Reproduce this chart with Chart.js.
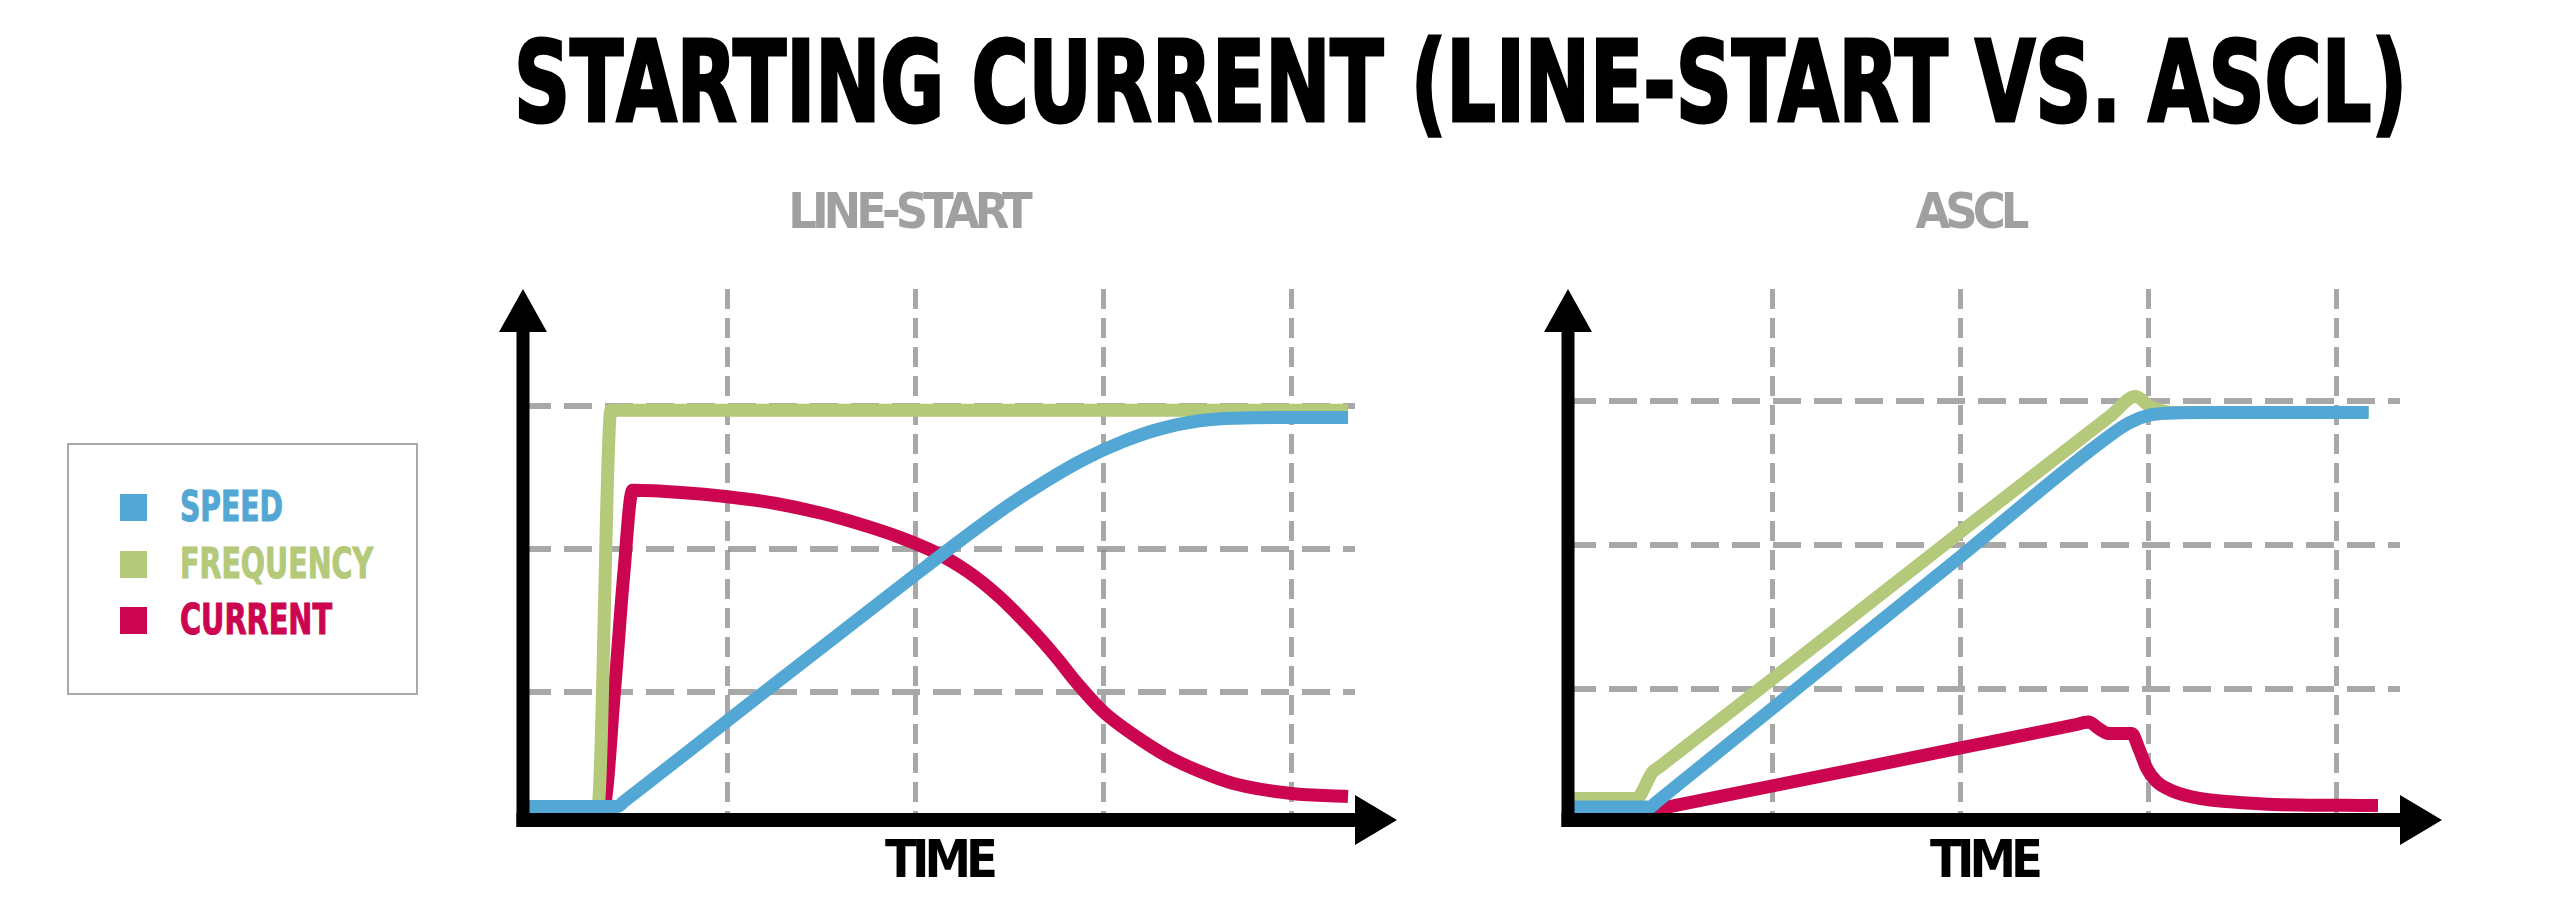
<!DOCTYPE html>
<html>
<head>
<meta charset="utf-8">
<title>Starting current (line-start vs. ASCL)</title>
<script src="https://cdn.jsdelivr.net/npm/chart.js@4.4.1/dist/chart.umd.min.js"></script>
<style>
  html, body { margin: 0; padding: 0; background: #fff; }
  body { width: 2560px; height: 916px; position: relative; overflow: hidden;
         font-family: "Liberation Sans Narrow", "DejaVu Sans Condensed", sans-serif; }
  #title { position: absolute; left: 514px; top: 26px; font-size: 112px; line-height: 1;
           font-weight: bold; white-space: nowrap; color: #000; transform-origin: 0 0;
           -webkit-text-stroke: 3px #000; }
  #legend { position: absolute; left: 67px; top: 443px; width: 351px; height: 252px;
            box-sizing: border-box; border: 2px solid #a9a9a9; background: #fff; }
  .swatch { position: absolute; left: 51px; width: 27px; height: 27px; }
  .label { position: absolute; left: 111px; font-size: 42px; line-height: 1; font-weight: bold;
           white-space: nowrap; transform-origin: 0 0; -webkit-text-stroke: 1px currentColor; }
  canvas { position: absolute; top: 180px; }
  #lineStart { left: 418px; }
  #ascl { left: 1492px; }
</style>
</head>
<body>
<div id="title">STARTING CURRENT (LINE-START VS. ASCL)</div>
<div id="legend"></div>
<canvas id="lineStart" width="982" height="736"></canvas>
<canvas id="ascl" width="956" height="736"></canvas>

<script>
// series names and colours, shared by both panels and the legend
const seriesNames = ['SPEED', 'FREQUENCY', 'CURRENT'];
const seriesColors = ['#52a7d4', '#b4c97a', '#cc0550'];

// dashed grid positions (time units / level units)
const timeGridLines = [1, 2, 3, 4];
const levelGridLines = [1, 2, 3];

// LINE-START panel
const lsSpeedT = [-0.088, 0.415, 0.45, 1.0, 2.0, 2.30, 2.50, 2.70, 2.90, 3.10, 3.30, 3.50, 3.70, 3.90, 4.30];
const lsSpeedV = [0.20, 0.20, 0.235, 0.80, 1.82, 2.12, 2.31, 2.48, 2.63, 2.75, 2.84, 2.895, 2.915, 2.92, 2.92];
const lsFreqT = [-0.088, 0.31, 0.38, 4.30];
const lsFreqV = [0.20, 0.20, 2.97, 2.97];
const lsCurrT = [-0.088, 0.34, 0.40, 0.447, 0.495, 0.75, 1.0, 1.25, 1.5, 1.74, 1.92, 2.10, 2.28, 2.45, 2.63, 2.75, 2.86, 3.0, 3.16, 3.34, 3.52, 3.69, 4.0, 4.30];
const lsCurrV = [0.20, 0.20, 1.03, 1.81, 2.41, 2.395, 2.365, 2.32, 2.25, 2.16, 2.08, 1.98, 1.84, 1.66, 1.42, 1.24, 1.06, 0.86, 0.70, 0.55, 0.44, 0.36, 0.29, 0.27];

// ASCL panel
const asSpeedT = [-0.088, 0.35, 0.38, 1.0, 2.0, 2.80, 2.90, 3.0, 3.1, 3.3, 4.17];
const asSpeedV = [0.18, 0.18, 0.212, 0.866, 1.92, 2.765, 2.85, 2.90, 2.915, 2.92, 2.92];
const asFreqT = [-0.088, 0.28, 0.30, 0.36, 0.40, 1.0, 2.0, 2.80, 2.93, 3.01, 3.13, 4.17];
const asFreqV = [0.24, 0.24, 0.27, 0.42, 0.46, 1.07, 2.09, 2.90, 3.03, 2.96, 2.92, 2.92];
const asCurrT = [-0.088, 0.33, 0.36, 1.0, 2.0, 2.60, 2.68, 2.74, 2.79, 2.91, 2.95, 2.99, 3.04, 3.13, 3.27, 3.45, 3.63, 4.22];
const asCurrV = [0.15, 0.15, 0.158, 0.327, 0.59, 0.748, 0.77, 0.72, 0.69, 0.69, 0.58, 0.45, 0.36, 0.29, 0.24, 0.215, 0.20, 0.19];

const fontFamily = '"Liberation Sans Narrow", "DejaVu Sans Condensed", sans-serif';
const gridColor = 'rgba(135, 135, 135, 0.72)';


/**
 * Title: squeeze it to the width it has in the picture.
 */
const titleEl = document.getElementById('title');
titleEl.style.transform = 'scaleX(' + (1893 / titleEl.getBoundingClientRect().width) + ')';


/**
 * Legend box on the left, built from the series names and colours.
 */
const legendEl = document.getElementById('legend');
const labelWidths = [103, 193, 152];
seriesNames.forEach(function(name, i) {
    const top = 49 + i * 56.5;
    const sw = document.createElement('div');
    sw.className = 'swatch';
    sw.style.top = top + 'px';
    sw.style.background = seriesColors[i];
    legendEl.appendChild(sw);

    const lb = document.createElement('div');
    lb.className = 'label';
    lb.textContent = name;
    lb.style.top = (top - 8) + 'px';
    lb.style.color = seriesColors[i];
    legendEl.appendChild(lb);
    lb.style.transform = 'scaleX(' + (labelWidths[i] / lb.getBoundingClientRect().width) + ')';
});


/**
 * Black axes with arrow heads, drawn on top of the lines.
 */
const axisArrows = {
    id: 'axisArrows',
    afterDatasetsDraw(chart) {
        const ctx = chart.ctx;
        const a = chart.chartArea;
        ctx.save();
        ctx.fillStyle = '#000';
        // vertical axis
        ctx.fillRect(a.left - 6.5, a.top + 43, 13, a.bottom - a.top - 43 + 7);
        ctx.beginPath();
        ctx.moveTo(a.left, a.top);
        ctx.lineTo(a.left + 24, a.top + 43);
        ctx.lineTo(a.left - 24, a.top + 43);
        ctx.closePath();
        ctx.fill();
        // time axis
        ctx.fillRect(a.left - 6.5, a.bottom - 7, a.right - a.left + 6.5, 14);
        ctx.beginPath();
        ctx.moveTo(a.right + 42, a.bottom);
        ctx.lineTo(a.right, a.bottom - 25);
        ctx.lineTo(a.right, a.bottom + 25);
        ctx.closePath();
        ctx.fill();
        ctx.restore();
    }
};

/**
 * Tighter letter spacing for the panel titles (the original font is very narrow).
 */
const tightText = {
    id: 'tightText',
    beforeDraw(chart) { chart.ctx.letterSpacing = '-5px'; },
    afterDraw(chart) { chart.ctx.letterSpacing = '0px'; }
};


function points(ts, vs) {
    return ts.map(function(t, i) { return {x: t, y: vs[i]}; });
}

/**
 * Builds one panel. Series order puts speed on top and current underneath.
 * yRoom is the empty strip left of the plot, so the panel title sits where it does in the picture.
 */
function makePanel(canvasId, subtitle, series, yMin, yMax, padLeft, padRight, yRoom) {
    return new Chart(document.getElementById(canvasId).getContext('2d'), {
        type: 'line',
        data: {
            datasets: series.map(function(s, i) {
                return {
                    label: seriesNames[i],
                    data: points(s[0], s[1]),
                    borderColor: seriesColors[i],
                    backgroundColor: seriesColors[i],
                    borderWidth: 13,
                    pointRadius: 0,
                    cubicInterpolationMode: 'monotone',
                    borderJoinStyle: 'round',
                    fill: false
                };
            })
        },
        options: {
            responsive: false,
            animation: false,
            layout: { padding: { left: padLeft, right: padRight, top: 0, bottom: 0 } },
            plugins: {
                legend: { display: false },
                tooltip: { enabled: false },
                title: {
                    display: true,
                    text: subtitle,
                    color: '#a0a0a0',
                    font: { family: fontFamily, size: 50, weight: 'bold', lineHeight: 1.2 },
                    padding: { top: 5.5, bottom: 43.5 }
                }
            },
            scales: {
                x: {
                    type: 'linear',
                    min: -0.088,
                    max: 4.337,
                    afterBuildTicks: function(scale) {
                        scale.ticks = timeGridLines.map(function(v) { return {value: v}; });
                    },
                    ticks: { display: false },
                    grid: { color: gridColor, lineWidth: 5, drawTicks: false },
                    border: { display: false, dash: [20, 9] },
                    title: {
                        display: true,
                        text: 'TIME',
                        color: '#000',
                        font: { family: fontFamily, size: 52, weight: 'bold', lineHeight: 1.2 },
                        padding: { top: 11.8, bottom: 21.8 }
                    }
                },
                y: {
                    type: 'linear',
                    min: yMin,
                    max: yMax,
                    afterBuildTicks: function(scale) {
                        scale.ticks = levelGridLines.map(function(v) { return {value: v}; });
                    },
                    afterFit: function(scale) { scale.width = yRoom; },
                    ticks: { display: false },
                    grid: { color: gridColor, lineWidth: 6, drawTicks: false },
                    border: { display: false, dash: [28, 13] }
                }
            }
        },
        plugins: [tightText, axisArrows]
    });
}

makePanel('lineStart', 'LINE-START',
    [[lsSpeedT, lsSpeedV], [lsFreqT, lsFreqV], [lsCurrT, lsCurrV]],
    0.105, 3.818, 43, 45, 62);

makePanel('ascl', 'ASCL',
    [[asSpeedT, asSpeedV], [asFreqT, asFreqV], [asCurrT, asCurrV]],
    0.09, 3.777, 48, 48, 28);
</script>
</body>
</html>
